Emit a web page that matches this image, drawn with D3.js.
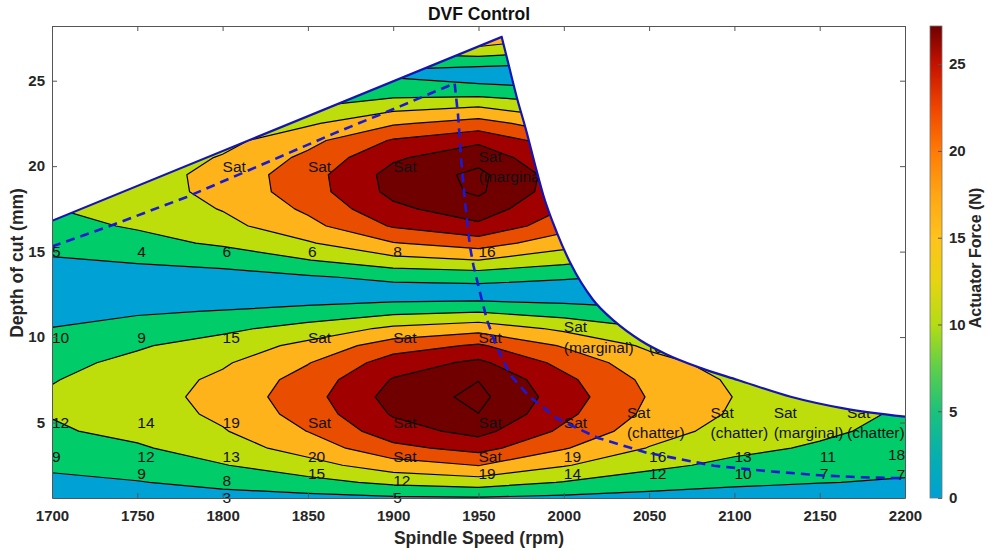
<!DOCTYPE html>
<html><head><meta charset="utf-8">
<script src="https://cdn.jsdelivr.net/npm/d3@7"></script>
<style>
body{margin:0;background:#fff}
text{font-family:"Liberation Sans",Arial,Helvetica,sans-serif}
</style>
</head><body>
<svg id="chart" width="987" height="551"></svg>
<script>
// ---------- DATA ----------
const rpmValues = [1700,1750,1800,1850,1900,1950,2000,2050,2100,2150,2200];
const depthValues = [0.5,1.5,2.5,3.5,4.5,5.5,6.5,7.5,8.5,9.5,10.5,11.5,12.5,13.5,14.5,15.5,16.5,17.5,18.5,19.5,20.5,21.5,22.5,23.5,24.5,25.5,26.5,27.5,28.5];
// actuator force (N) per spindle speed column, one value per depth row
const force1700 = [0.4,1.6,3.2,5.0,6.0,6.7,7.0,6.3,5.5,4.8,2.6,1.0,0.1,0.6,2.1,4.0,5.3,6.4,7.0,7.0,6.3,5.3,4.0,2.5,0.9,0.1,1.7,3.4,4.4];
const force1750 = [0.5,2.3,4.4,6.0,7.6,8.4,8.8,8.4,7.4,6.1,4.1,2.0,0.1,0.9,2.9,5.2,6.9,7.9,8.6,8.7,8.0,6.9,5.1,3.3,1.1,0.1,2.2,4.5,5.7];
const force1800 = [0.7,3.7,6.3,8.6,10.2,11.3,11.8,11.3,10.0,8.2,5.6,2.7,0.1,1.0,4.0,7.1,9.3,10.7,11.7,11.8,10.8,9.3,6.9,4.4,1.5,0.1,3.0,6.0,7.7];
const force1850 = [1.0,5.2,9.0,12.2,14.6,16.1,16.9,16.1,14.3,11.6,8.0,3.8,0.1,2.0,6.4,10.1,13.3,15.2,16.6,16.8,15.4,13.3,9.9,6.3,2.2,0.2,4.3,8.6,11.0];
const force1900 = [1.4,7.4,12.7,17.4,20.8,22.9,24.0,22.8,20.4,16.6,11.3,5.4,0.2,3.4,9.2,14.3,18.9,21.6,23.6,23.9,21.9,18.9,14.0,9.0,3.9,1.8,6.1,12.2,15.7];
const force1950 = [1.6,8.5,14.6,19.9,23.8,26.45,27.5,26.4,23.35,19.0,13.0,6.2,0.2,3.9,10.5,16.4,21.7,24.8,27.1,27.4,25.15,21.7,16.1,10.3,3.6,0.3,7.0,14.0,18.0];
const force2000 = [1.2,6.3,10.8,14.8,17.7,19.5,20.4,19.5,17.3,14.1,9.7,4.6,0.1,2.9,7.8,12.2,16.1,18.4,20.1,20.4,18.7,16.1,12.0,7.7,2.7,0.2,5.2,10.4,13.4];
const force2050 = [0.8,4.4,7.5,10.3,12.3,13.6,14.2,13.5,12.0,9.8,6.7,3.2,0.1,2.0,5.4,8.5,11.2,12.8,14.0,14.1,13.0,11.2,8.3,5.3,1.9,0.2,3.6,7.2,9.3];
const force2100 = [0.6,3.2,5.5,7.5,9.0,10.0,10.4,9.9,8.8,7.2,4.9,2.3,0.1,1.5,4.0,6.2,8.2,9.4,10.3,10.4,9.5,8.2,6.1,3.9,1.4,0.1,2.7,5.3,6.8];
const force2150 = [0.5,2.6,4.4,6.0,7.2,7.9,8.3,7.9,7.0,5.7,3.9,1.9,0.1,1.2,3.2,4.9,6.5,7.5,8.2,8.2,7.6,6.5,4.8,3.1,1.1,0.1,2.1,4.2,5.4];
const force2200 = [0.4,2.2,3.3,4.5,5.4,6.0,6.3,6.0,5.3,4.3,3.0,1.4,0.1,0.9,2.4,3.7,4.9,5.7,6.2,6.2,5.7,4.9,3.7,2.3,0.8,0.1,1.6,3.2,4.1];
const forceColumns = [force1700,force1750,force1800,force1850,force1900,force1950,force2000,force2050,force2100,force2150,force2200];

const contourLevels = [2.5,6.5,10.5,14.5,18.5,22.5,26.5];

// stability limit (boundary of the plotted region)
const limitRpm   = [1700,1963.6,1967.5,1972.4,1978.2,1983.1,1988,1996,2004,2017,2030,2045,2060,2080,2102,2133,2164,2200];
const limitDepth = [16.8,27.56,26.0,24.05,22.0,20.1,18.3,16.1,14.3,12.2,10.9,9.8,9.0,8.2,7.49,6.51,5.83,5.34];

// dashed curve
const dashRpm   = [1700,1734,1779,1814,1865,1904,1936,1938,1940,1942,1945,1947,1951,1955,1960,1968.5,1980,1988,1995,2004,2020,2048,2088,2120,2152,2174,2200];
const dashDepth = [15.3,16.5,18.2,19.7,21.9,23.5,24.85,23.0,20.2,18.0,15.3,14.2,12.55,11.0,9.6,7.8,6.5,5.9,5.3,4.85,4.1,3.25,2.47,2.15,1.9,1.8,1.74];

// point annotations
const labelRpm   = [1800,1850,1900,1950,
  1700,1750,1800,1850,1900,1950,
  1700,1750,1800,1850,1900,1950,2000,2050,
  1700,1750,1800,1850,1900,1950,2000,2037,2086,2123,2166,
  1700,1750,1800,1850,1900,1950,2000,2050,2100,2150,2190,
  1750,1850,1950,2000,2050,2100,2150,2195,
  1800,1900,
  1800,1900];
const labelDepth = [20,20,20,20,
  15,15,15,15,15,15,
  10,10,10,10,10,10,10,10,
  5,5,5,5,5,5,5,5,5,5,5,
  3,3,3,3,3,3,3,3,3,3,3.15,
  2,2,2,2,2,2,2,1.95,
  1.6,1.6,
  0.6,0.6];
const labelText = ["Sat","Sat","Sat","Sat\n(marginal)",
  "5","4","6","6","8","16",
  "10","9","15","Sat","Sat","Sat","Sat\n(marginal)","Sat\n(chatter)",
  "12","14","19","Sat","Sat","Sat","Sat","Sat\n(chatter)","Sat\n(chatter)","Sat\n(marginal)","Sat\n(chatter)",
  "9","12","13","20","Sat","Sat","19","16","13","11","18",
  "9","15","19","14","12","10","7","7",
  "8","12",
  "3","5"];

const xTicks = [1700,1750,1800,1850,1900,1950,2000,2050,2100,2150,2200];
const yTicks = [5,10,15,20,25];
const cTicks = [0,5,10,15,20,25];

// ---------- STYLE ----------
const bandColors = ["#00A1D5","#00CC6A","#BEDE0C","#FFB31A","#E84D00","#A00000","#700000","#700000"];
const cmapStops  = [0,2.5,5,7.5,10,12.5,15,17.5,20,22.5,25,27.2];
const cmapColors = ["#00A0D4","#05B0AE","#1CC27A","#5ECF4A","#B4DC14","#E6D412","#FFC21C","#FFA514","#FF7A05","#F04400","#C41200","#700000"];

const plot = {l:52, r:905, t:26, b:498};
const svg = d3.select("#chart");

const x = d3.scaleLinear().domain([1700,2200]).range([plot.l, plot.r]);
const y = d3.scaleLinear().domain([0.585,28.2]).range([plot.b, plot.t]);
const cScale = d3.scaleLinear().domain([0,27.2]).range([plot.b, plot.t]);

// grid for contouring
const nx = rpmValues.length, ny = depthValues.length;
const grid = new Array(nx*ny);
for (let j=0;j<ny;j++) for (let i=0;i<nx;i++) grid[j*nx+i] = forceColumns[i][j];
const gx = d3.scaleLinear().domain([0.5, nx-0.5]).range([rpmValues[0], rpmValues[nx-1]]);
const gy = d3.scaleLinear().domain([0.5, ny-0.5]).range([depthValues[0], depthValues[ny-1]]);
const proj = d3.geoTransform({point(px,py){ this.stream.point(x(gx(px)), y(gy(py))); }});
const gpath = d3.geoPath(proj);
const contours = d3.contours().size([nx,ny]).thresholds(contourLevels)(grid);

const defs = svg.append("defs");
defs.append("clipPath").attr("id","plotclip")
  .append("rect").attr("x",plot.l).attr("y",plot.t).attr("width",plot.r-plot.l).attr("height",plot.b-plot.t);

const gC = svg.append("g").attr("clip-path","url(#plotclip)");
gC.append("rect").attr("x",plot.l).attr("y",plot.t).attr("width",plot.r-plot.l).attr("height",plot.b-plot.t)
  .attr("fill",bandColors[0]);
gC.selectAll("path.band").data(contours).join("path").attr("class","band")
  .attr("d",gpath).attr("fill",(d,i)=>bandColors[i+1])
  .attr("stroke","#000").attr("stroke-width",1.2).attr("stroke-linejoin","round");

// annotations
const gL = svg.append("g").attr("font-size","15.5px").attr("fill","#111");
labelText.forEach((t,k)=>{
  const lines = t.split("\n");
  const tx = gL.append("text").attr("x",x(labelRpm[k])).attr("y",y(labelDepth[k]));
  lines.forEach((ln,li)=>{
    tx.append("tspan").attr("x",x(labelRpm[k]))
      .attr("dy", li===0 ? (lines.length===1 ? "0.36em" : "-0.3em") : "1.32em")
      .text(ln);
  });
});

// white mask outside the stability limit
const curveLine = d3.line().x((d)=>x(d[0])).y((d)=>y(d[1])).curve(d3.curveMonotoneX);
const curvePts = limitRpm.slice(1).map((r,i)=>[r, limitDepth[i+1]]);
const curveD = curveLine(curvePts);
const maskD = curveD + `L${x(2200)+2},${plot.t-2}L${x(1700)-2},${plot.t-2}L${x(1700)-2},${y(limitDepth[0])}L${x(1700)},${y(limitDepth[0])}Z`;
svg.append("path").attr("d",maskD).attr("fill","#fff").attr("clip-path","url(#plotclip)");

// limit line and dashed curve
const gB = svg.append("g").attr("clip-path","url(#plotclip)");
gB.append("path").attr("d", `M${x(limitRpm[0])},${y(limitDepth[0])}L${x(limitRpm[1])},${y(limitDepth[1])}` + curveD.replace(/^M/,"L"))
  .attr("fill","none").attr("stroke","#1414B4").attr("stroke-width",2.2);
const dashLine = d3.line().x((d)=>x(d[0])).y((d)=>y(d[1]));
gB.append("path").attr("d", dashLine(dashRpm.map((r,i)=>[r,dashDepth[i]])))
  .attr("fill","none").attr("stroke","#1A1AD6").attr("stroke-width",2.6)
  .attr("stroke-dasharray","9,6");

// axes
const axCol = "#262626";
function styleAxis(g){
  g.selectAll(".domain").attr("stroke","#555").attr("stroke-width",1);
  g.selectAll(".tick line").attr("stroke","#555");
  g.selectAll(".tick text").attr("font-size","15px").attr("font-weight","bold").attr("fill",axCol)
   .attr("font-family","Liberation Sans, Arial, sans-serif");
}
svg.append("g").attr("transform",`translate(0,${plot.b})`)
  .call(d3.axisBottom(x).tickValues(xTicks).tickFormat(d3.format("d")).tickSizeInner(-5).tickSizeOuter(0).tickPadding(12)).call(styleAxis);
svg.append("g").attr("transform",`translate(0,${plot.t})`)
  .call(d3.axisTop(x).tickValues(xTicks).tickFormat("").tickSizeInner(-5).tickSizeOuter(0)).call(styleAxis);
svg.append("g").attr("transform",`translate(${plot.l},0)`)
  .call(d3.axisLeft(y).tickValues(yTicks).tickSizeInner(-5).tickSizeOuter(0).tickPadding(7)).call(styleAxis);
svg.append("g").attr("transform",`translate(${plot.r},0)`)
  .call(d3.axisRight(y).tickValues(yTicks).tickFormat("").tickSizeInner(-5).tickSizeOuter(0)).call(styleAxis);

// title and axis labels
svg.append("text").attr("x",479).attr("y",20).attr("text-anchor","middle")
  .attr("font-size","17.5px").attr("font-weight","bold").attr("fill","#111").text("DVF Control");
svg.append("text").attr("x",479).attr("y",544).attr("text-anchor","middle")
  .attr("font-size","17.5px").attr("font-weight","bold").attr("fill",axCol).text("Spindle Speed (rpm)");
svg.append("text").attr("transform","translate(23,263) rotate(-90)").attr("text-anchor","middle")
  .attr("font-size","17.5px").attr("font-weight","bold").attr("fill",axCol).text("Depth of cut (mm)");

// colorbar
const cb = {x:930, w:12};
const grad = defs.append("linearGradient").attr("id","cgrad")
  .attr("x1",0).attr("y1",1).attr("x2",0).attr("y2",0);
cmapStops.forEach((v,i)=>grad.append("stop").attr("offset", v/27.2).attr("stop-color", cmapColors[i]));
svg.append("rect").attr("x",cb.x).attr("y",plot.t).attr("width",cb.w).attr("height",plot.b-plot.t)
  .attr("fill","url(#cgrad)");
const cAx = svg.append("g").attr("transform",`translate(${cb.x+cb.w},0)`)
  .call(d3.axisRight(cScale).tickValues(cTicks).tickSizeInner(-4).tickSizeOuter(0).tickPadding(7));
styleAxis(cAx);
cAx.select(".domain").remove();
svg.append("rect").attr("x",cb.x).attr("y",plot.t).attr("width",cb.w).attr("height",plot.b-plot.t)
  .attr("fill","none").attr("stroke","#777").attr("stroke-width",0.8);
svg.append("text").attr("transform","translate(981,258) rotate(-90)").attr("text-anchor","middle")
  .attr("font-size","16px").attr("font-weight","bold").attr("fill",axCol).text("Actuator Force (N)");
</script>
</body></html>
